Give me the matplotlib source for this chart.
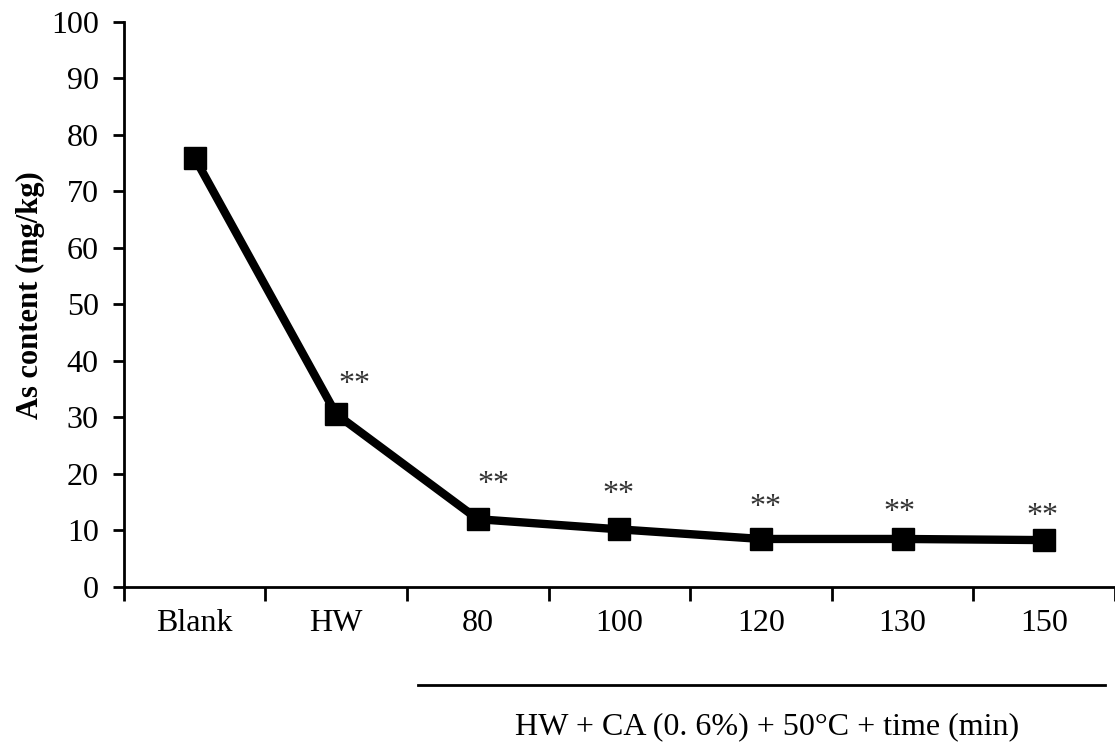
import numpy as np
import matplotlib
matplotlib.use("Agg")
import matplotlib.pyplot as plt

plt.rcParams["font.family"] = ["Liberation Serif", "DejaVu Serif"]

# data
categories = ["Blank", "HW", "80", "100", "120", "130", "150"]
as_content = [76.0, 30.6, 12.0, 10.2, 8.5, 8.5, 8.3]
star_labels = ["", "**", "**", "**", "**", "**", "**"]
star_y = [0, 35.8, 18.1, 16.3, 14.0, 13.1, 12.4]
star_dx = [0, 0.13, 0.11, -0.01, 0.03, -0.02, -0.01]
xlabel_text = "HW + CA (0. 6%) + 50°C + time (min)"

fig = plt.figure(figsize=(11.15, 7.49), dpi=100)
ax = fig.add_axes([0.111, 0.2163, 0.889, 0.7544])

x = np.arange(len(categories))
ax.plot(x, as_content, color="black", linewidth=6, marker="s",
        markersize=16, zorder=3, clip_on=False)

for xi, lab, sy, dx in zip(x, star_labels, star_y, star_dx):
    if lab:
        ax.text(xi + dx, sy, lab, ha="center", va="center", fontsize=23,
                color="#333333")

ax.set_xlim(-0.5, len(categories) - 0.5)
ax.set_ylim(0, 100)
ax.set_yticks(np.arange(0, 101, 10))
ax.set_xticks(x)
ax.set_xticklabels(categories)
ax.set_xticks(np.arange(-0.5, len(categories), 1), minor=True)

ax.tick_params(axis="y", labelsize=23, direction="out", length=8, width=2, pad=10)
ax.tick_params(axis="x", which="major", length=0, labelsize=23, pad=16)
ax.tick_params(axis="x", which="minor", direction="out", length=10, width=2)

for side in ["top", "right"]:
    ax.spines[side].set_visible(False)
ax.spines["left"].set_linewidth(2)
ax.spines["bottom"].set_linewidth(2)

ax.set_ylabel("As content (mg/kg)", fontsize=22, fontweight="bold")
ax.yaxis.set_label_coords(-0.079, 0.517)

# group bracket under the time points
line_y = 1 - 685 / 749
fig.add_artist(plt.Line2D([418 / 1115, 1105 / 1115], [line_y, line_y],
                          color="black", linewidth=2))
fig.text(767 / 1115, 1 - 727 / 749, xlabel_text, ha="center", va="center",
         fontsize=23)

fig.savefig("out.png", dpi=100)
